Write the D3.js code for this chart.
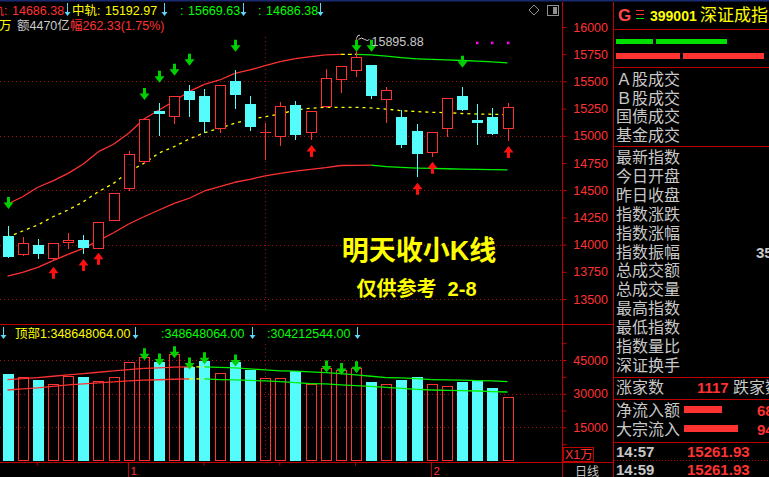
<!DOCTYPE html>
<html><head><meta charset="utf-8">
<script src="https://cdn.jsdelivr.net/npm/d3@7"></script>
<style>
html,body{margin:0;padding:0;background:#000;overflow:hidden}
svg{display:block}
text{font-family:"Liberation Sans","Noto Sans CJK SC",sans-serif}
</style></head><body>
<svg id="c" width="769" height="477"></svg>
<script>
// ---------- data ----------
const opens  = [14082,13907,13994,13870,14017,14042,13962,14220,14514,14762,15228,15176,15412,15366,15060,15504,15292,15030,14986,15283,15029,15262,15516,15598,15651,15332,15170,15044,14845,15060,15366,15145,15173,15065];
const closes = [13889,14012,13916,14012,14042,13971,14205,14471,14830,15154,15203,15363,15332,15130,15467,15378,15084,15034,15271,15007,15228,15528,15639,15722,15366,15418,14915,14835,15032,15345,15237,15120,15017,15262];
const highs  = [14171,14067,14051,14012,14107,14088,14210,14475,14860,15160,15301,15365,15467,15430,15470,15605,15366,15115,15313,15323,15230,15611,15642,15895.88,15655,15449,15237,15108,15035,15348,15449,15292,15253,15299];
const lows   = [13880,13898,13868,13847,13962,13916,13955,14215,14495,14741,15001,15111,15176,15029,15029,15249,15044,14778,14909,14961,14961,15255,15396,15543,15341,15120,14891,14619,14808,14992,15230,14915,15007,14955];
const volumes = [38955,37500,36300,34500,38000,37600,35800,37500,44300,46400,43900,47600,42000,44600,39400,43900,40400,37200,37200,40150,34500,41640,40450,41340,35370,34480,35970,37610,34480,33580,35370,35670,32690,28660];
const upperBand = [14373,14440,14527,14585,14655,14741,14854,14922,15023,15154,15237,15320,15409,15473,15513,15574,15605,15644,15681,15710,15727,15743,15749,15749,15743,15733,15718,15707,15703,15697,15692,15686,15680,15670];
const midBand   = [14067,14125,14180,14256,14318,14394,14486,14563,14670,14747,14842,14900,14971,15028,15069,15115,15152,15176,15200,15237,15253,15262,15262,15262,15256,15246,15231,15223,15216,15213,15205,15200,15198,15193];
const lowerBand = [13711,13745,13791,13852,13911,13966,14036,14109,14189,14256,14318,14379,14426,14493,14532,14573,14600,14631,14655,14676,14692,14707,14727,14729,14730,14716,14709,14702,14700,14697,14694,14692,14689,14686];
const volMaA = [36270,36720,37160,37750,38360,38960,39550,40150,40750,41300,41490,41800,41940,41940,41700,41490,41040,40600,40150,40000,39700,39400,38960,38360,37750,37160,37010,36720,36270,36120,36000,35820,35670,35370];
const volMaB = [31640,32090,32540,33280,33880,34330,34780,35220,35670,36000,36200,36420,36570,36570,36300,36120,35900,35670,35370,34930,34480,34330,33880,33580,33280,32840,32390,31940,31640,31500,31340,31190,30900,30750];
const sellSignals = [[0,14327],[9,15329],[10,15488],[11,15552],[12,15644],[15,15773],[23,15773],[24,15773],[30,15626]];
const buySignals  = [[3,13797],[5,13868],[6,13926],[20,14915],[27,14569],[28,14762],[33,14906]];
const volSignals  = [[9,44910],[10,42540],[11,45800],[12,40750],[13,43120],[15,42090],[21,39400],[22,38370],[23,39090]];
const markerDots  = [[31,15856],[32,15856],[33,15856]];
const priceTicks = [13500,13750,14000,14250,14500,14750,15000,15250,15500,15750,16000];
const priceGrid  = [13500,14000,14500,15000,15500];
const volTicks   = [7500,15000,22500,30000,37500,45000,52500];
const volLabels  = [15000,30000,45000];
const volGrid    = [15000,30000,45000];
const weekTicks  = [2,13,18,23];
const monthTicks = [8,28];
const monthLabels = ["1","2"];
const markDay = 17;
const highMark = {i:23, value:15895.88, label:"15895.88"};
const headerTop = [
  {name:"下轨", v:"14686.38", c:"red"},{name:"中轨", v:"15192.97", c:"yellow"},{name:"", v:"15669.63", c:"green"},{name:"", v:"14686.38", c:"green"}];
const headerVol = [
  {t:"顶部1:348648064.00", c:"yellow"},{t:":348648064.00", c:"green"},{t:":304212544.00", c:"green"}];
const panelGroupA = ["Ａ股成交","Ｂ股成交","国债成交","基金成交"];
const panelGroupB = ["最新指数","今日开盘","昨日收盘","指数涨跌","指数涨幅","指数振幅","总成交额","总成交量","最高指数","最低指数","指数量比","深证换手"];

// ---------- style ----------
const RED="#ff3232", CYAN="#54fcfc", GREEN="#00f000", YELLOW="#ffff00", FRAME="#c00000", GRID="#a81010", GRAY="#c8c8c8", ARROWG="#00d000";
const COL={red:RED,yellow:YELLOW,green:"#00ff00"};
const svg = d3.select("#c");
svg.append("rect").attr("width",769).attr("height",477).attr("fill","#000");

const idx = d3.range(opens.length);
const x  = d3.scaleLinear().domain([0,33]).range([7.5,507.5]);
const y  = d3.scaleLinear().domain([13500,16000]).range([299,27]);
const yv = d3.scaleLinear().domain([0,45000]).range([461,360]);
const CW = 10;

svg.append("rect").attr("x",0).attr("y",0).attr("width",769).attr("height",1.5).attr("fill","#1a2a70");

// grids
const gg = svg.append("g");
priceGrid.forEach(p=>{const yy=Math.round(y(p))+0.5;
  gg.append("line").attr("x1",0).attr("x2",562).attr("y1",yy).attr("y2",yy).attr("stroke",GRID).attr("stroke-dasharray","1,3");});
volGrid.forEach(v=>{const yy=Math.round(yv(v))+0.5;
  gg.append("line").attr("x1",0).attr("x2",562).attr("y1",yy).attr("y2",yy).attr("stroke",GRID).attr("stroke-dasharray","1,3");});
{const xx=Math.round(x(markDay))+0.5;
 gg.append("line").attr("x1",xx).attr("x2",xx).attr("y1",37).attr("y2",312).attr("stroke",GRID).attr("stroke-dasharray","1,3");
 gg.append("line").attr("x1",xx).attr("x2",xx).attr("y1",344).attr("y2",460).attr("stroke",GRID).attr("stroke-dasharray","1,3");}

function segLine(vals, sc){
  const g=svg.append("g");
  for(let i=0;i<vals.length-1;i++){
    const a=vals[i], b=vals[i+1];
    const col = b>a?RED:(b<a?GREEN:YELLOW);
    g.append("line").attr("x1",x(i)).attr("y1",sc(a)).attr("x2",x(i+1)).attr("y2",sc(b))
      .attr("stroke",col).attr("stroke-width",1.3).attr("stroke-dasharray",a===b?"4,3":null);
  }
}
segLine(upperBand,y);
segLine(lowerBand,y);
svg.append("path").datum(midBand).attr("fill","none").attr("stroke",YELLOW).attr("stroke-width",1.3)
  .attr("stroke-dasharray","3,4").attr("d",d3.line().x((d,i)=>x(i)).y(d=>y(d)));

// candles
const cg = svg.append("g");
idx.forEach(i=>{
  const up = closes[i]>=opens[i];
  const cx = Math.round(x(i))+0.5;
  const top = Math.round(y(Math.max(opens[i],closes[i])));
  const bot = Math.max(top+1, Math.round(y(Math.min(opens[i],closes[i]))));
  const hy = Math.round(y(highs[i])), ly=Math.round(y(lows[i]));
  const col = up?RED:CYAN;
  if(hy<top) cg.append("line").attr("x1",cx).attr("x2",cx).attr("y1",hy).attr("y2",top).attr("stroke",col);
  if(ly>bot) cg.append("line").attr("x1",cx).attr("x2",cx).attr("y1",bot).attr("y2",ly).attr("stroke",col);
  if(up){
    cg.append("rect").attr("x",cx-CW/2).attr("y",top+0.5).attr("width",CW).attr("height",Math.max(0.01,bot-top-1)).attr("fill","#000").attr("stroke",RED);
  } else {
    cg.append("rect").attr("x",cx-CW/2-0.5).attr("y",top).attr("width",CW+1).attr("height",Math.max(1,bot-top)).attr("fill",CYAN);
  }
});

function downArrow(cx,t){return `M${cx-1.5},${t-12}L${cx+1.5},${t-12}L${cx+1.5},${t-6.5}L${cx+5},${t-6.5}L${cx},${t}L${cx-5},${t-6.5}L${cx-1.5},${t-6.5}Z`;}
function upArrow(cx,t){return `M${cx-1.5},${t+12}L${cx+1.5},${t+12}L${cx+1.5},${t+6.5}L${cx+5},${t+6.5}L${cx},${t}L${cx-5},${t+6.5}L${cx-1.5},${t+6.5}Z`;}
sellSignals.forEach(([i,v])=>svg.append("path").attr("d",downArrow(Math.round(x(i))+0.5,y(v))).attr("fill",ARROWG));
buySignals.forEach(([i,v])=>svg.append("path").attr("d",upArrow(Math.round(x(i))+0.5,y(v))).attr("fill","#ff1010"));
markerDots.forEach(([i,v])=>svg.append("rect").attr("x",Math.round(x(i))-1).attr("y",y(v)-1).attr("width",2.5).attr("height",2.5).attr("fill","#ff00ff"));

{const hx=Math.round(x(highMark.i))+0.5, hy=y(highMark.value);
 svg.append("path").attr("d",`M${hx},${hy}l1.5,-3l2,0M${hx+2},${hy+1}q3,-2.5 6,0q3,2.5 5,0`).attr("fill","none").attr("stroke",GRAY).attr("stroke-width",1);
 svg.append("text").attr("x",hx+15).attr("y",hy+8).attr("fill",GRAY).attr("font-size",12.5).text(highMark.label);}

// volume bars
const vg = svg.append("g");
idx.forEach(i=>{
  const up = closes[i]>=opens[i];
  const cx = Math.round(x(i))+0.5;
  const top = Math.round(yv(volumes[i])), bot = Math.round(yv(0));
  if(up) vg.append("rect").attr("x",cx-5).attr("y",top+0.5).attr("width",10).attr("height",bot-top-1).attr("fill","none").attr("stroke",RED);
  else vg.append("rect").attr("x",cx-5.5).attr("y",top).attr("width",11).attr("height",bot-top).attr("fill",CYAN);
});
segLine(volMaA,yv);
segLine(volMaB,yv);
volSignals.forEach(([i,v])=>svg.append("path").attr("d",downArrow(Math.round(x(i))+0.5,yv(v))).attr("fill",ARROWG));

// frames
const fr = svg.append("g").attr("stroke",FRAME).attr("fill","none");
fr.append("line").attr("x1",0).attr("x2",613).attr("y1",324.5).attr("y2",324.5);
fr.append("line").attr("x1",0).attr("x2",613).attr("y1",462.5).attr("y2",462.5);
fr.append("line").attr("x1",562.5).attr("x2",562.5).attr("y1",2).attr("y2",477);
fr.append("line").attr("x1",613.5).attr("x2",613.5).attr("y1",2).attr("y2",477);
[29.5,67.5,146.5,377.5,399.5,442.5].forEach(yy=>fr.append("line").attr("x1",613).attr("x2",769).attr("y1",yy).attr("y2",yy));
fr.append("line").attr("x1",614).attr("x2",769).attr("y1",460.5).attr("y2",460.5).attr("stroke-dasharray","1,2");

// price axis
const pa = svg.append("g").attr("transform","translate(562.5,0)")
  .call(d3.axisRight(y).tickValues(priceTicks).tickSize(4).tickFormat(d3.format("d")));
pa.select(".domain").remove();
pa.selectAll(".tick line").attr("stroke",FRAME);
pa.selectAll(".tick text").attr("fill",RED).attr("font-size",12.5).attr("font-family","Liberation Sans").attr("text-anchor","end").attr("x",45.5);
const va = svg.append("g").attr("transform","translate(562.5,0)")
  .call(d3.axisRight(yv).tickValues(volTicks).tickSize(4).tickFormat(d=>volLabels.includes(d)?d3.format("d")(d):""));
va.select(".domain").remove();
va.selectAll(".tick line").attr("stroke",FRAME);
va.selectAll(".tick text").attr("fill",RED).attr("font-size",12.5).attr("font-family","Liberation Sans").attr("text-anchor","end").attr("x",45.5);
svg.append("rect").attr("x",563.5).attr("y",447.5).attr("width",30).attr("height",14).attr("fill","none").attr("stroke",FRAME);
svg.append("text").attr("x",565).attr("y",459).attr("fill",RED).attr("font-size",12.5).text("X1万");
svg.append("text").attr("x",575).attr("y",476).attr("fill",GRAY).attr("font-size",12).attr("font-family","Noto Sans CJK SC").text("日线");

// time axis
const ta = svg.append("g").attr("transform","translate(0,462.5)")
  .call(d3.axisBottom(x).tickValues(weekTicks).tickSize(3).tickFormat(""));
ta.select(".domain").remove();
ta.selectAll(".tick line").attr("stroke",FRAME).attr("transform","translate(-1,0)");
monthTicks.forEach((m,k)=>{const xx=Math.round(x(m))-0.5;
  svg.append("line").attr("x1",xx).attr("x2",xx).attr("y1",463).attr("y2",477).attr("stroke",FRAME);
  svg.append("text").attr("x",xx+2).attr("y",475).attr("fill",RED).attr("font-size",11.5).text(monthLabels[k]);});

function hdrArrow(xx,y1,y2){
  svg.append("line").attr("x1",xx+0.5).attr("x2",xx+0.5).attr("y1",y1).attr("y2",y2-3).attr("stroke","#5cd8f8");
  svg.append("path").attr("d",`M${xx-2.5},${y2-4}L${xx+3.5},${y2-4}L${xx+0.5},${y2}Z`).attr("fill","#5cd8f8");
}
// top header: label, colon, value
const hNum=[12,105,188,266], ha1=[67,164,243,320];
headerTop.forEach((h,k)=>{
  const g = svg.append("text").attr("y",14.5).attr("fill",COL[h.c]).attr("font-size",12.5);
  g.append("tspan").attr("x",hNum[k]-8-h.name.length*12.5).text(h.name+":");
  g.append("tspan").attr("x",hNum[k]).text(h.v);
  hdrArrow(ha1[k],3,16);
});
svg.append("text").attr("x",-1).attr("y",29.5).attr("fill",YELLOW).attr("font-size",12.5).text("万");
svg.append("text").attr("x",17).attr("y",29.5).attr("fill",GRAY).attr("font-size",12.5).text("额4470亿");
svg.append("text").attr("x",70).attr("y",29.5).attr("fill",RED).attr("font-size",12.5).text("幅262.33(1.75%)");
const hx2=[15,161,267], ha2=[135,252,357];
hdrArrow(3,327,339);
headerVol.forEach((h,k)=>{
  svg.append("text").attr("x",hx2[k]).attr("y",338).attr("fill",COL[h.c]).attr("font-size",12.5).text(h.t);
  hdrArrow(ha2[k],327,339);
});
svg.append("path").attr("d","M534,5L539,10L534,15L529,10Z").attr("fill","none").attr("stroke","#909090");
svg.append("rect").attr("x",547.5).attr("y",5.5).attr("width",11).attr("height",10).attr("fill","none").attr("stroke","#909090");
svg.append("rect").attr("x",553).attr("y",7).attr("width",4).attr("height",7).attr("fill","#909090");

// overlay text
svg.append("text").attr("x",419).attr("y",260).attr("text-anchor","middle").attr("fill",YELLOW)
  .attr("font-size",27).attr("font-weight","bold").attr("font-family","Noto Sans CJK SC").text("明天收小K线");
svg.append("text").attr("x",416.5).attr("y",296).attr("text-anchor","middle").attr("fill",YELLOW)
  .attr("font-size",20).attr("font-weight","bold").attr("font-family","Noto Sans CJK SC").style("white-space","pre").text("仅供参考  2-8");

// right panel
svg.append("text").attr("x",618).attr("y",21).attr("fill","#ff4848").attr("font-size",17).attr("font-weight","bold").text("G");
[[10,RED],[14,RED],[18,"#00e000"]].forEach(([yy,c])=>svg.append("line").attr("x1",636).attr("x2",644).attr("y1",yy+0.5).attr("y2",yy+0.5).attr("stroke",c));
svg.append("text").attr("x",650).attr("y",21).attr("fill",YELLOW).attr("font-size",14).attr("font-weight","bold").text("399001");
svg.append("text").attr("x",700).attr("y",21).attr("fill",YELLOW).attr("font-size",17).attr("font-family","Noto Sans CJK SC").text("深证成指");
[[616,37],[656,71]].forEach(([a,w])=>svg.append("rect").attr("x",a).attr("y",39).attr("width",w).attr("height",5).attr("fill","#00e000"));
[[616,64],[683,81]].forEach(([a,w])=>svg.append("rect").attr("x",a).attr("y",53).attr("width",w).attr("height",6).attr("fill",RED));
panelGroupA.forEach((t,k)=>svg.append("text").attr("x",616).attr("y",85+k*18.5).attr("fill",GRAY).attr("font-size",16).attr("font-family","Noto Sans CJK SC").text(t));
panelGroupB.forEach((t,k)=>svg.append("text").attr("x",616).attr("y",163+k*18.9).attr("fill",GRAY).attr("font-size",16).attr("font-family","Noto Sans CJK SC").text(t));
svg.append("text").attr("x",756).attr("y",257.5).attr("fill",GRAY).attr("font-size",15).attr("font-weight","bold").text("35");
svg.append("text").attr("x",616).attr("y",393).attr("fill",GRAY).attr("font-size",16).attr("font-family","Noto Sans CJK SC").text("涨家数");
svg.append("text").attr("x",697).attr("y",393).attr("fill",RED).attr("font-size",15).attr("font-weight","bold").text("1117");
svg.append("text").attr("x",733).attr("y",393).attr("fill",GRAY).attr("font-size",16).attr("font-family","Noto Sans CJK SC").text("跌家数");
svg.append("text").attr("x",616).attr("y",416).attr("fill",GRAY).attr("font-size",16).attr("font-family","Noto Sans CJK SC").text("净流入额");
svg.append("text").attr("x",616).attr("y",435).attr("fill",GRAY).attr("font-size",16).attr("font-family","Noto Sans CJK SC").text("大宗流入");
svg.append("rect").attr("x",684).attr("y",406).attr("width",38).attr("height",7).attr("fill",RED);
svg.append("rect").attr("x",684).attr("y",425).attr("width",54).attr("height",7).attr("fill",RED);
svg.append("text").attr("x",757).attr("y",416).attr("fill",RED).attr("font-size",15).attr("font-weight","bold").text("68");
svg.append("text").attr("x",757).attr("y",435).attr("fill",RED).attr("font-size",15).attr("font-weight","bold").text("94");
[["14:57",456.5],["14:59",475]].forEach(([t,yy])=>{
  svg.append("text").attr("x",616).attr("y",yy).attr("fill",GRAY).attr("font-size",15).attr("font-weight","bold").text(t);
  svg.append("text").attr("x",687).attr("y",yy).attr("fill",RED).attr("font-size",15).attr("font-weight","bold").text("15261.93");
});
</script>
</body></html>
